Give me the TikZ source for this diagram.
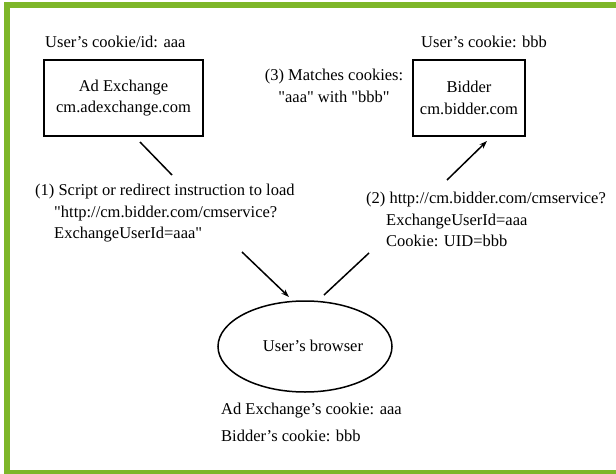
\documentclass[tikz,border=0pt]{standalone}
\usepackage{fontspec}
\setmainfont{Liberation Serif}[Ligatures=TeXOff]
\usetikzlibrary{shapes.geometric,arrows.meta}
\definecolor{framegreen}{RGB}{126,182,41}
\begin{document}
\begin{tikzpicture}[x=1pt,y=-1pt,
  every node/.style={font=\fontsize{16.5}{21.5}\selectfont, inner sep=0pt},
  txt/.style={align=left, anchor=north west},
  server/.style={draw, line width=1.5pt, align=center, minimum width=159pt, minimum height=76pt},
  flow/.style={line width=1.5pt},
  flowarrow/.style={line width=1.5pt, -{Stealth[length=8pt,width=5.5pt]}}]
\useasboundingbox (0,0) rectangle (616,474);
% green frame on the top, left and bottom edges
\fill[framegreen] (4,2) rectangle (616,7.5);
\fill[framegreen] (4,2) rectangle (9.5,474);
\fill[framegreen] (4,470) rectangle (616,474);

% servers
\node[server] (adx) at (123.5,98) {Ad Exchange\\cm.adexchange.com};
\node[server, minimum width=112pt] (bid) at (469,98) {Bidder\\cm.bidder.com};
\node[anchor=west] (adxck) at (45,42) {User’s cookie/id: aaa};
\node[anchor=west] (bidck) at (421,42) {User’s cookie: bbb};
\node[align=center] (match) at (334,86) {(3) Matches cookies:\\[0pt]"aaa" with "bbb"};

% browser
\node[draw, ellipse, line width=1.5pt, minimum width=174pt, minimum height=91pt] (br) at (305,346.5) {};
\node (brlab) at (313,346) {User’s browser};
\node[anchor=west] (brck1) at (221,411) {Ad Exchange’s cookie: aaa};
\node[anchor=west] (brck2) at (221,436) {Bidder’s cookie: bbb};

% step labels
\node[txt] (s1) at (35,184) {(1) Script or redirect instruction to load\\
\hspace*{19pt}"http://cm.bidder.com/cmservice?\\
\hspace*{19pt}ExchangeUserId=aaa"};
\node[txt] (s2) at (366,192) {(2) http://cm.bidder.com/cmservice?\\
\hspace*{20pt}ExchangeUserId=aaa\\
\hspace*{20pt}Cookie: UID=bbb};

% connectors
\coordinate (a1) at (140,142);
\coordinate (a2) at (172,175);
\coordinate (a3) at (242,252);
\coordinate (a4) at (289,297);
\coordinate (b1) at (369,253);
\coordinate (b2) at (324,295);
\coordinate (b3) at (447,180);
\coordinate (b4) at (487,141);
\draw[flow] (a1) -- (a2);
\draw[flowarrow] (a3) -- (a4);
\draw[flow] (b1) -- (b2);
\draw[flowarrow] (b3) -- (b4);
\end{tikzpicture}
\end{document}
